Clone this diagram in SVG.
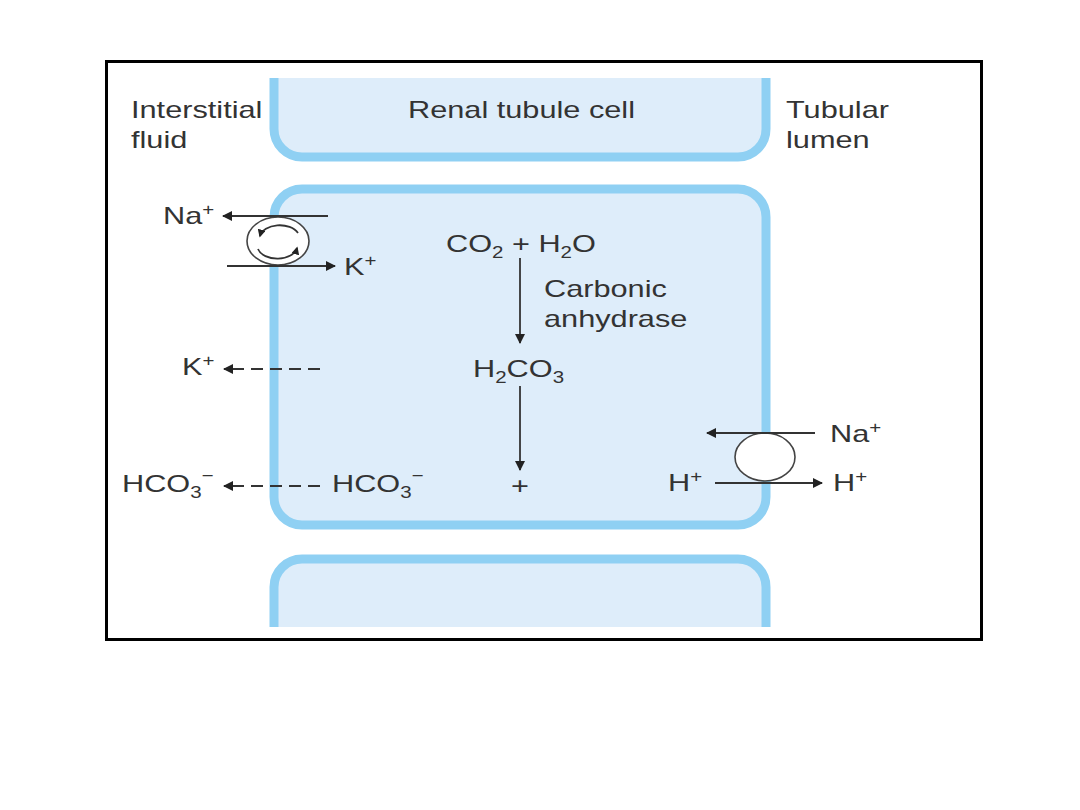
<svg xmlns="http://www.w3.org/2000/svg" width="1080" height="810" viewBox="0 0 1080 810">
<defs>
<style>
.cell{fill:#deedfa;stroke:#8fd0f3;stroke-width:9}
.t{font-family:"Liberation Sans",Arial,sans-serif;font-size:24px;fill:#333}
.s{font-size:16px}
.ln{stroke:#333;stroke-width:1.8;fill:none}
.dash{stroke:#333;stroke-width:1.8;fill:none;stroke-dasharray:12 7}
.pump{fill:#fff;stroke:#444;stroke-width:1.6}
</style>
<marker id="ah" viewBox="0 0 10 10" refX="9" refY="5" markerWidth="11" markerHeight="10" markerUnits="userSpaceOnUse" orient="auto">
<path d="M0,0 L10,5 L0,10 z" fill="#222"/>
</marker>
<marker id="ahs" viewBox="0 0 10 10" refX="8" refY="5" markerWidth="8" markerHeight="8" markerUnits="userSpaceOnUse" orient="auto">
<path d="M0,0 L10,5 L0,10 z" fill="#222"/>
</marker>
</defs>
<rect width="1080" height="810" fill="#fff"/>
<rect x="106.5" y="61.5" width="875" height="578" fill="#fff" stroke="#000" stroke-width="3"/>

<g id="cell-top">
<path class="cell" d="M274,78 V129 A28,28 0 0 0 302,157 H738 A28,28 0 0 0 766,129 V78"/>
</g>
<g id="cell-middle">
<rect class="cell" x="274" y="189" width="492" height="336" rx="28"/>
</g>
<g id="cell-bottom">
<path class="cell" d="M274,627 V587 A28,28 0 0 1 302,559 H738 A28,28 0 0 1 766,587 V627"/>
</g>

<g id="labels">
<text class="t" transform="translate(131,118) scale(1.28,1)">Interstitial</text>
<text class="t" transform="translate(131,148) scale(1.28,1)">fluid</text>
<text class="t" transform="translate(408,118) scale(1.28,1)">Renal tubule cell</text>
<text class="t" transform="translate(786,118) scale(1.28,1)">Tubular</text>
<text class="t" transform="translate(786,148) scale(1.28,1)">lumen</text>
</g>

<g id="pump-nak">
<ellipse class="pump" cx="278" cy="241" rx="31" ry="24"/>
<path class="ln" d="M298,233 A20,13 0 0 0 260,236" stroke-width="1.5" marker-end="url(#ahs)"/>
<path class="ln" d="M258,249 A20,13 0 0 0 297,248" stroke-width="1.5" marker-end="url(#ahs)"/>
<text class="t" transform="translate(163,224) scale(1.28,1)">Na<tspan class="s" dy="-9">+</tspan></text>
<text class="t" transform="translate(344,275) scale(1.28,1)">K<tspan class="s" dy="-9">+</tspan></text>
</g>

<g id="exchanger-nah">
<ellipse class="pump" cx="765" cy="457" rx="30" ry="24"/>
<text class="t" transform="translate(830,442) scale(1.28,1)">Na<tspan class="s" dy="-9">+</tspan></text>
<text class="t" transform="translate(668,491) scale(1.28,1)">H<tspan class="s" dy="-9">+</tspan></text>
<text class="t" transform="translate(833,491) scale(1.28,1)">H<tspan class="s" dy="-9">+</tspan></text>
</g>

<g id="reaction">
<text class="t" transform="translate(446,252) scale(1.28,1)">CO<tspan class="s" dy="6">2</tspan><tspan dy="-6"> + H</tspan><tspan class="s" dy="6">2</tspan><tspan dy="-6">O</tspan></text>
<text class="t" transform="translate(544,297) scale(1.28,1)">Carbonic</text>
<text class="t" transform="translate(544,327) scale(1.28,1)">anhydrase</text>
<text class="t" transform="translate(473,377) scale(1.28,1)">H<tspan class="s" dy="6">2</tspan><tspan dy="-6">CO</tspan><tspan class="s" dy="6">3</tspan></text>
<text class="t" text-anchor="middle" transform="translate(520,494) scale(1.28,1)">+</text>
</g>

<g id="k-leak">
<text class="t" transform="translate(182,375) scale(1.28,1)">K<tspan class="s" dy="-9">+</tspan></text>
</g>

<g id="bicarb">
<text class="t" transform="translate(122,492) scale(1.28,1)">HCO<tspan class="s" dy="6">3</tspan><tspan class="s" dy="-17">−</tspan></text>
<text class="t" transform="translate(332,492) scale(1.28,1)">HCO<tspan class="s" dy="6">3</tspan><tspan class="s" dy="-17">−</tspan></text>
</g>

<g id="connectors">
<line class="ln" x1="328" y1="216" x2="223" y2="216" marker-end="url(#ah)"/>
<line class="ln" x1="227" y1="266" x2="335" y2="266" marker-end="url(#ah)"/>
<line class="dash" x1="320" y1="369" x2="224" y2="369" marker-end="url(#ah)"/>
<line class="dash" x1="320" y1="486" x2="224" y2="486" marker-end="url(#ah)"/>
<line class="ln" x1="520" y1="258" x2="520" y2="343" marker-end="url(#ah)"/>
<line class="ln" x1="520" y1="386" x2="520" y2="470" marker-end="url(#ah)"/>
<line class="ln" x1="815" y1="433" x2="707" y2="433" marker-end="url(#ah)"/>
<line class="ln" x1="715" y1="483" x2="822" y2="483" marker-end="url(#ah)"/>
</g>
</svg>
